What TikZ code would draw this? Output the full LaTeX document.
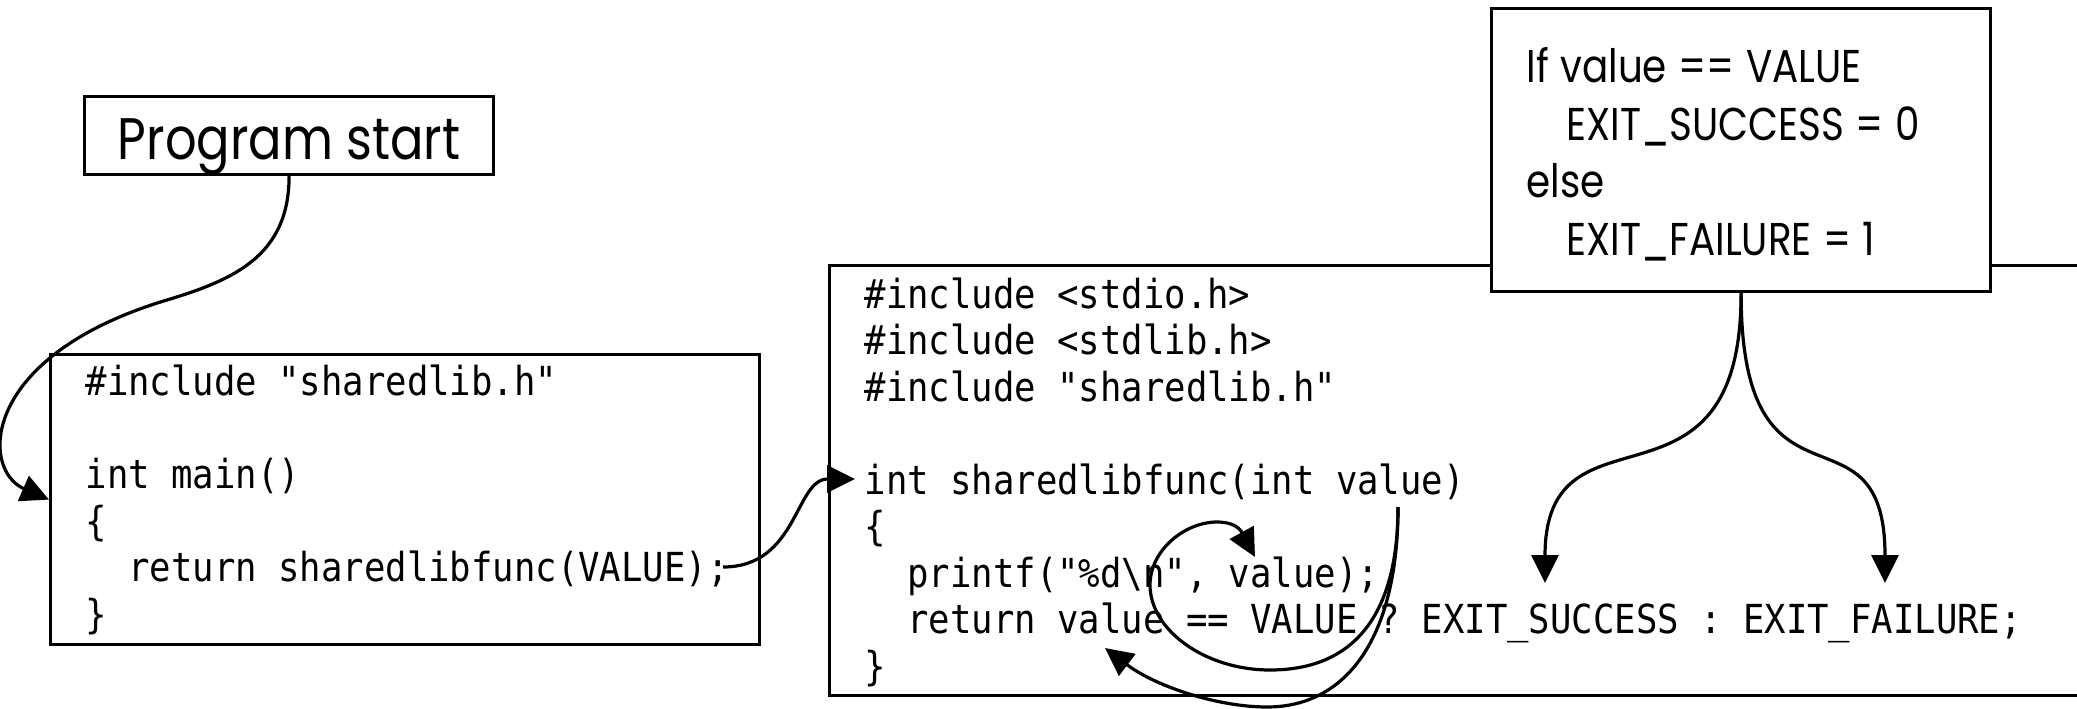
\documentclass[tikz,border=0pt]{standalone}
\usepackage{fontspec}
\setmainfont{Poppins}[FakeStretch=0.845]
\newfontfamily\codefont{DejaVu Sans Mono}[FakeStretch=0.89,Ligatures=TeXOff]
\usetikzlibrary{arrows.meta}
\tikzset{
  box/.style={draw, line width=3.2pt, inner ysep=0pt, inner xsep=35pt, anchor=north west, align=left},
  codetext/.style={font=\codefont\fontsize{40}{46.5}\selectfont\frenchspacing},
  conn/.style={line width=3.2pt, -{Triangle[length=28pt,width=27pt]}},
}
\newcommand\ind[1]{\hspace*{#1pt}}
\newcommand\codesp{\spaceskip=21.43pt\relax\xspaceskip=21.43pt\relax}
\newcommand\textsp{\spaceskip=0.25em\relax\xspaceskip=0.25em\relax}
\newcommand\us{\char95\relax}
\begin{document}
\begin{tikzpicture}[x=1pt,y=-1pt]
\useasboundingbox (0,0) rectangle (2077,709);
% boxes
\node[box, inner xsep=0pt, minimum width=409pt, text height=63pt, text depth=15pt,
      font=\fontsize{58.6}{70}\selectfont] (ps) at (83,95) {Program start};
\node[box, codetext, text width=639pt, text height=41pt, text depth=249pt] (lbox) at (49,353)
  {\codesp\mbox{\#include "sharedlib.h"}\\
   \mbox{}\\
   \mbox{int main()}\\
   \{\\
   \mbox{\ind{42.86}return sharedlibfunc(VALUE);}\\
   \}};
\node[box, codetext, text width=1232pt, text height=42.5pt, text depth=387.5pt] (rbox) at (828,264)
  {\codesp\#include <stdio.h>\\
   \#include <stdlib.h>\\
   \#include "sharedlib.h"\\
   \mbox{}\\
   int sharedlibfunc(int value)\\
   \{\\
   \ind{42.86}printf("\%d\textbackslash n", value);\\
   \ind{42.86}return value == VALUE ? EXIT\us SUCCESS : EXIT\us FAILURE;\\
   \}};
\node[box, fill=white, text width=429pt, text height=74pt, text depth=209pt,
      font=\fontsize{46}{57.5}\selectfont] (cond) at (1490,7)
  {\textsp If value == VALUE\\
   \ind{40}EXIT\_SUCCESS = 0\\
   else\\
   \ind{40}EXIT\_FAILURE = 1};
% coordinates
\coordinate (m1) at (167,300);
\coordinate (semi) at (723,567);
\coordinate (callin) at (855,479);
\coordinate (v1) at (1398,507);
\coordinate (v2) at (1255,557);
\coordinate (v3) at (1105,648);
\coordinate (succ) at (1545,583);
\coordinate (fail) at (1885,583);
% connectors
\draw[conn] (ps.south) .. controls +(0,80) and +(66,-20) .. (m1)
  .. controls +(-187,56) and +(-69,-30) .. (lbox.west);
\draw[conn] (semi) .. controls +(75,0) and +(-60,0) .. (callin);
\draw[conn] (v1) .. controls +(0,100) and +(90,0) .. (1270,670)
  .. controls +(-65,0) and +(0,45) .. (1150,585)
  .. controls +(0,-35) and +(-32,0) .. (1217,522)
  .. controls +(23,0) and +(-12,-22) .. (v2);
\draw[conn] (v1) .. controls +(0,130) and +(80,0) .. (1267,707)
  .. controls +(-50,0) and +(50,38) .. (v3);
\draw[conn] (cond.south) .. controls +(0,240) and +(0,-191) .. (succ);
\draw[conn] (cond.south) .. controls +(0,240) and +(0,-191) .. (fail);
\end{tikzpicture}
\end{document}
